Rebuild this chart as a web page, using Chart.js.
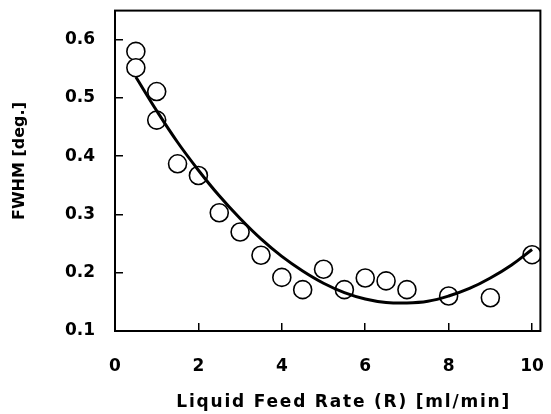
<!DOCTYPE html>
<html>
<head>
<meta charset="utf-8">
<script src="https://cdn.jsdelivr.net/npm/chart.js@4"></script>
<style>
  html, body { margin: 0; padding: 0; background: #fff; }
  #wrap { width: 551px; height: 414px; position: relative; }
</style>
</head>
<body>
<div id="wrap"><canvas id="c"></canvas></div>
<script>
// Measured points: liquid feed rate R [ml/min] and FWHM [deg.]
const feedRate = [0.5, 0.5, 1, 1, 1.5, 2, 2.5, 3, 3.5, 4, 4.5, 5, 5.5, 6, 6.5, 7, 8, 9, 10];
const fwhm = [0.580, 0.552, 0.511, 0.462, 0.387, 0.367, 0.303, 0.270, 0.230, 0.192, 0.171, 0.206, 0.171, 0.191, 0.186, 0.171, 0.160, 0.157, 0.231];

// Fitted curve
const fitX = [0.5, 1, 1.5, 2, 2.5, 3, 3.5, 4, 4.5, 5, 5.5, 6, 6.5, 7, 7.5, 8, 8.5, 9, 9.5, 10];
const fitY = [0.536, 0.478, 0.424, 0.376, 0.332, 0.293, 0.258, 0.228, 0.203, 0.182, 0.166, 0.155, 0.149, 0.148, 0.151, 0.160, 0.173, 0.191, 0.213, 0.240];

// Axis tick labels / ranges
const xTicks = [0, 2, 4, 6, 8, 10];
const yTicks = [0.1, 0.2, 0.3, 0.4, 0.5, 0.6];
const xTitle = 'Liquid Feed Rate (R) [ml/min]';
const yTitle = 'FWHM [deg.]';

const FONT = "'DejaVu Sans', Verdana, sans-serif";

const framePlugin = {
  id: 'frame',
  afterDraw(chart) {
    const { ctx, chartArea: a } = chart;
    ctx.save();
    ctx.strokeStyle = '#000';
    ctx.lineWidth = 2;
    ctx.strokeRect(a.left, a.top, a.right - a.left, a.bottom - a.top);
    // axis titles
    ctx.fillStyle = '#000';
    ctx.textBaseline = 'middle';
    ctx.textAlign = 'center';
    ctx.font = 'bold 17px ' + FONT;
    if ('letterSpacing' in ctx) ctx.letterSpacing = '1.8px';
    ctx.fillText(xTitle, (a.left + a.right) / 2 + 16, 403);
    if ('letterSpacing' in ctx) ctx.letterSpacing = '0px';
    ctx.translate(19.5, 161);
    ctx.rotate(-Math.PI / 2);
    ctx.font = 'bold 16px ' + FONT;
    ctx.fillText(yTitle, 0, 0);
    ctx.restore();
  }
};

function noPad(s) {
  s.paddingTop = 0; s.paddingBottom = 0; s.paddingLeft = 0; s.paddingRight = 0;
}

new Chart(document.getElementById('c'), {
  type: 'scatter',
  data: {
    datasets: [
      {
        type: 'line',
        label: 'fit',
        data: fitX.map((x, i) => ({ x, y: fitY[i] })),
        borderColor: '#000',
        borderWidth: 3,
        pointRadius: 0,
        tension: 0.4,
        fill: false,
        order: 0
      },
      {
        label: 'FWHM',
        data: feedRate.map((x, i) => ({ x, y: fwhm[i] })),
        pointRadius: 9,
        pointBorderWidth: 1.6,
        pointBorderColor: '#000',
        pointBackgroundColor: '#fff',
        order: 1
      }
    ]
  },
  options: {
    responsive: true,
    maintainAspectRatio: false,
    animation: false,
    layout: { padding: { top: 9, right: 5, left: 0, bottom: 0 } },
    plugins: { legend: { display: false }, tooltip: { enabled: false } },
    scales: {
      x: {
        type: 'linear',
        min: 0,
        max: 10.2,
        afterFit(s) { s.height = 83; noPad(s); },
        afterBuildTicks(s) { s.ticks = xTicks.map(v => ({ value: v })); },
        ticks: {
          color: '#000',
          font: { family: FONT, size: 17, weight: 'bold' },
          padding: 33,
          maxRotation: 0,
          callback: v => String(v)
        },
        grid: { drawOnChartArea: false, drawTicks: true, tickLength: -8, color: '#000', lineWidth: 1.5 },
        border: { display: false }
      },
      y: {
        type: 'linear',
        min: 0.1,
        max: 0.65,
        afterFit(s) { s.width = 115; noPad(s); },
        afterBuildTicks(s) { s.ticks = yTicks.map(v => ({ value: v })); },
        ticks: {
          color: '#000',
          font: { family: FONT, size: 17, weight: 'bold' },
          padding: 28,
          callback: v => v.toFixed(1)
        },
        grid: { drawOnChartArea: false, drawTicks: true, tickLength: -8, color: '#000', lineWidth: 1.5 },
        border: { display: false }
      }
    }
  },
  plugins: [framePlugin]
});
</script>
</body>
</html>
